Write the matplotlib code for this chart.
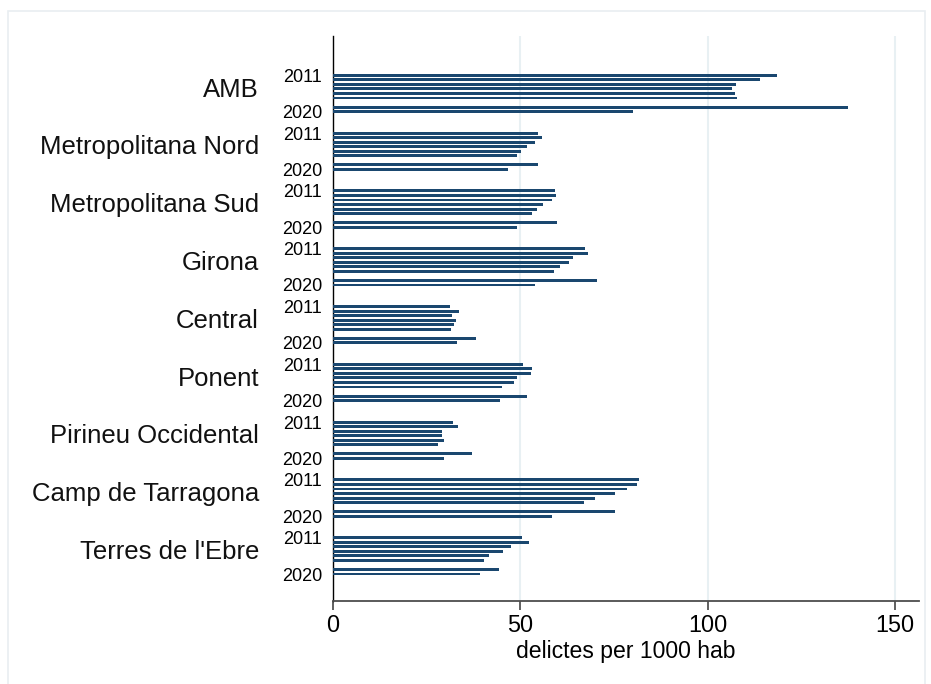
import numpy as np
import matplotlib
matplotlib.use("Agg")
import matplotlib.pyplot as plt
from matplotlib.patches import Rectangle

# delictes per 1000 hab, per regio policial; el slot de 2018 va buit
regions = ["AMB", "Metropolitana Nord", "Metropolitana Sud", "Girona", "Central",
           "Ponent", "Pirineu Occidental", "Camp de Tarragona", "Terres de l'Ebre"]
years = [2011, 2012, 2013, 2014, 2015, 2016, 2018, 2019, 2020]

amb = [118.6, 113.9, 107.5, 106.4, 107.2, 107.9, np.nan, 137.4, 80.2]
metro_nord = [54.6, 55.9, 53.8, 51.7, 50.2, 49.1, np.nan, 54.6, 46.6]
metro_sud = [59.2, 59.4, 58.4, 56.0, 54.4, 53.0, np.nan, 59.7, 49.0]
girona = [67.4, 68.2, 64.0, 62.9, 60.5, 58.9, np.nan, 70.4, 53.8]
central = [31.2, 33.6, 31.8, 32.8, 32.3, 31.5, np.nan, 38.2, 33.1]
ponent = [50.7, 53.1, 52.8, 49.1, 48.3, 45.1, np.nan, 51.8, 44.6]
pirineu = [32.0, 33.4, 29.1, 29.1, 29.6, 28.0, np.nan, 37.1, 29.6]
camp_tarragona = [81.7, 81.1, 78.5, 75.3, 69.9, 67.0, np.nan, 75.3, 58.4]
terres_ebre = [50.4, 52.3, 47.5, 45.4, 41.6, 40.3, np.nan, 44.3, 39.2]

values = [amb, metro_nord, metro_sud, girona, central,
          ponent, pirineu, camp_tarragona, terres_ebre]

plt.rcParams['font.family'] = ['Liberation Sans', 'DejaVu Sans']

W, H = 931, 684
fig = plt.figure(figsize=(W / 100, H / 100), dpi=100)
# marc gris clar de la figura (la vora de baix queda fora)
fig.patches.append(Rectangle((8 / W, -0.05), 917 / W, 1.05 - 11 / H, transform=fig.transFigure,
                             fill=False, edgecolor='#e9eef1', linewidth=1.2))

ax = fig.add_axes([333 / W, 1 - 601 / H, 585.5 / W, 565 / H])

group_step = 12.76  # separacio entre grups, en slots
bar_col = '#1a476f'

yticks = []
ylabels = []
for g, (name, vals) in enumerate(zip(regions, values)):
    ys = [-(g * group_step + s) for s in range(len(years))]
    ax.barh(ys, vals, height=0.65, color=bar_col, zorder=3)
    yticks += [ys[0], ys[-1]]
    ylabels += [str(years[0]), str(years[-1])]
    ax.text(-0.1265, -(g * group_step + 4.7), name, transform=ax.get_yaxis_transform(),
            ha='right', va='baseline', fontsize=18.5, color='#111111')

ax.set_yticks(yticks)
ax.set_yticklabels(ylabels, fontsize=13)
ax.tick_params(axis='y', length=0, pad=8)

ax.set_ylim(-(8 * group_step + 8 + 5.96), 8.68)
ax.set_xlim(0, 156.3)
ax.set_xticks([0, 50, 100, 150])
ax.tick_params(axis='x', labelsize=16.8, length=6.5, width=1.2, color='#444444', pad=3)
ax.set_xlabel("delictes per 1000 hab", fontsize=16.6, labelpad=2)

ax.grid(axis='x', color='#e8f0f3', linewidth=1.5, zorder=0)
ax.set_axisbelow(True)

for s in ['top', 'right']:
    ax.spines[s].set_visible(False)
ax.spines['left'].set_color('#000000')
ax.spines['left'].set_linewidth(1.0)
ax.spines['bottom'].set_color('#4d4d4d')
ax.spines['bottom'].set_linewidth(1.3)

fig.savefig("out.png", dpi=100)
